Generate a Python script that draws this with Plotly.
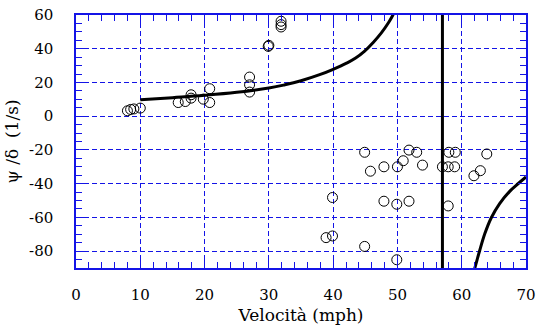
import plotly.graph_objects as go

# Measured data points (speed mph, yaw-rate gain 1/s)
meas_speed = [8.0, 8.5, 9.0, 10.0, 15.9, 17.0, 17.9, 17.9, 19.8, 20.8, 20.8,
              27.0, 27.0, 27.0, 29.9, 30.0, 31.9, 31.9, 31.9,
              44.9, 45.8, 47.9, 50.0, 50.9, 51.8, 53.0, 53.9, 57.0, 57.9, 58.9,
              58.0, 59.0, 61.9, 62.9, 63.9,
              39.9, 38.9, 39.9, 44.9, 47.9, 49.9, 51.8, 57.9, 49.9]
meas_gain = [3.2, 4.0, 4.3, 4.8, 8.1, 8.7, 10.7, 12.7, 10.1, 16.3, 8.1,
             23.2, 18.6, 14.3, 41.4, 42.0, 56.3, 54.3, 52.9,
             -21.4, -32.6, -30.0, -30.0, -26.4, -20.1, -21.4, -29.0, -30.0, -30.0, -30.0,
             -21.4, -21.4, -35.3, -32.3, -22.4,
             -48.2, -72.0, -71.0, -77.2, -50.4, -52.2, -50.4, -53.2, -85.1]

# Model curve, below critical region
model_speed_low = [10, 15, 20, 25, 30, 32.5, 35, 37.9, 40.0, 42.0, 43.5, 44.9, 46.2, 47.5, 48.6, 49.3, 49.6]
model_gain_low = [9.7, 11.0, 12.4, 14.2, 16.7, 18.6, 21.0, 24.6, 27.8, 31.3, 34.5, 38.6, 43.6, 49.4, 55.4, 60.0, 62.0]

# Model curve, above critical region
model_speed_high = [61.9, 62.4, 62.8, 63.6, 64.6, 65.9, 67.5, 68.8, 70.0]
model_gain_high = [-92.0, -85.0, -79.6, -69.6, -60.2, -51.8, -44.4, -39.9, -36.0]

# Critical speed marker
critical_speed = [57, 57]
critical_span = [-90, 60]

x_ticks = [0, 10, 20, 30, 40, 50, 60, 70]
y_ticks = [-80, -60, -40, -20, 0, 20, 40, 60]

blue = "rgb(20,20,230)"
font_family = "DejaVu Serif"

fig = go.Figure()
fig.add_trace(go.Scatter(x=model_speed_low, y=model_gain_low, mode="lines",
                         line=dict(color="black", width=3, shape="spline", smoothing=1.2),
                         showlegend=False))
fig.add_trace(go.Scatter(x=model_speed_high, y=model_gain_high, mode="lines",
                         line=dict(color="black", width=3, shape="spline", smoothing=1.0),
                         showlegend=False))
fig.add_trace(go.Scatter(x=critical_speed, y=critical_span, mode="lines",
                         line=dict(color="black", width=3),
                         showlegend=False))
fig.add_trace(go.Scatter(x=meas_speed, y=meas_gain, mode="markers",
                         marker=dict(symbol="circle-open", size=10, color="black",
                                     line=dict(width=1, color="black")),
                         cliponaxis=False, showlegend=False))

axis_common = dict(
    showline=True, linecolor=blue, linewidth=1.5, mirror="allticks",
    ticks="inside", tickcolor=blue, tickwidth=1.2, ticklen=8,
    showgrid=True, gridcolor=blue, gridwidth=1, griddash="5px,3px",
    zeroline=False, automargin=False,
    tickfont=dict(family=font_family, size=15, color="black"),
)

fig.update_xaxes(range=[0, 70], tickvals=x_ticks, ticktext=[str(v) for v in x_ticks],
                 minor=dict(dtick=2, ticks="inside", ticklen=6, tickcolor=blue, tickwidth=1.2, showgrid=False),
                 title=dict(text="Velocità (mph)", font=dict(family=font_family, size=17, color="black"),
                            standoff=6),
                 ticklabelstandoff=12,
                 **axis_common)
fig.update_yaxes(range=[-90, 60], tickvals=y_ticks, ticktext=[str(v) for v in y_ticks],
                 minor=dict(dtick=5, tick0=0, ticks="inside", ticklen=6, tickcolor=blue, tickwidth=1.2, showgrid=False),
                 title=dict(text="ψ /δ  (1/s)", font=dict(family=font_family, size=17, color="black"),
                            standoff=6),
                 ticklabelstandoff=18,
                 **axis_common)

fig.update_layout(
    width=537, height=328,
    margin=dict(l=76, r=11, t=15, b=60),
    paper_bgcolor="white", plot_bgcolor="white",
    font=dict(family=font_family, color="black"),
)

fig.write_html("out.html")
